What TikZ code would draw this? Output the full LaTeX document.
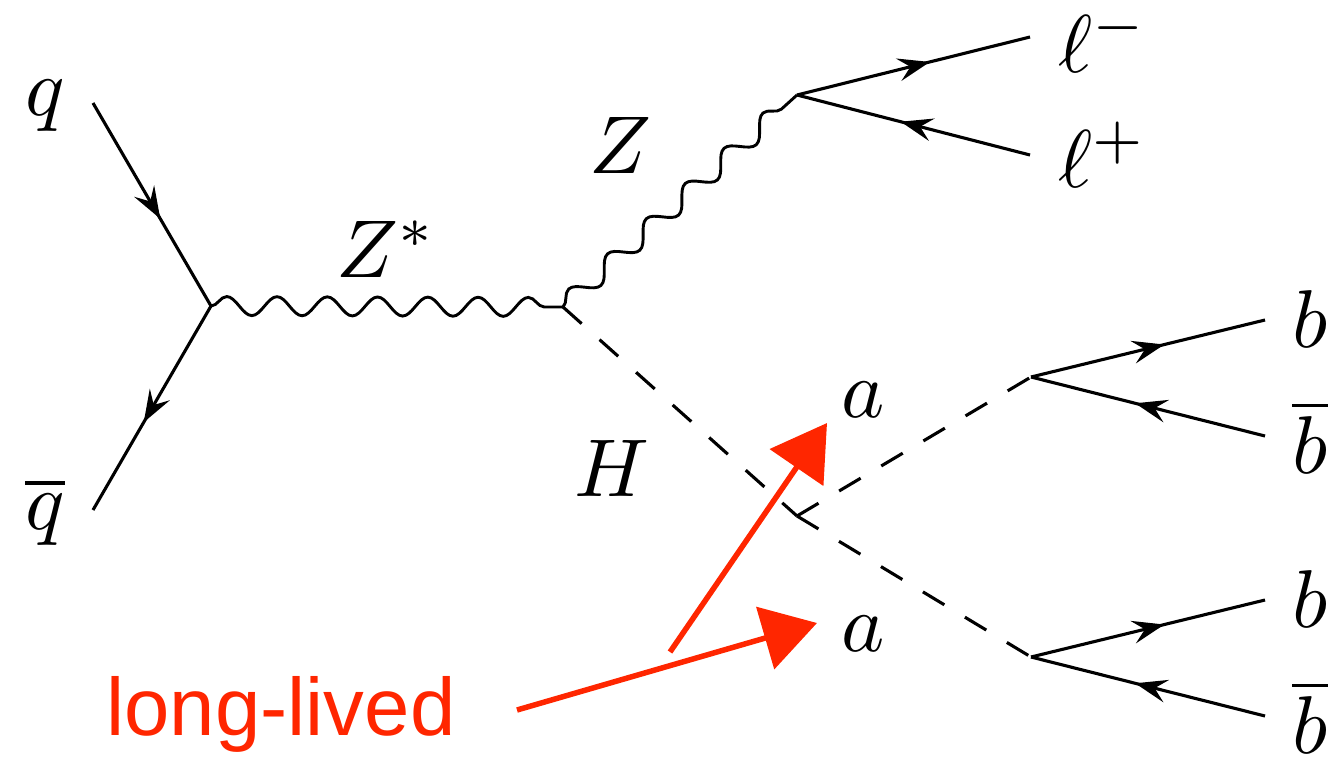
\documentclass[tikz,border=0pt]{standalone}
\usepackage{fontspec}
\setsansfont{Liberation Sans}
\usetikzlibrary{arrows.meta,decorations.pathmorphing,decorations.markings}
\definecolor{longlived}{RGB}{255,38,0}
\tikzset{
  fermion/.style={line width=3.1pt, postaction={decorate}, decoration={markings,
      mark=at position #1 with {\arrow{Stealth[length=32pt,width=23pt,inset=12pt]}}}},
  fermion/.default=0.57,
  boson/.style={line width=2.9pt, decorate,
      decoration={snake, amplitude=9.5pt, segment length=50.28pt}},
  scalar/.style={line width=3.1pt, dash pattern=on 25pt off 24pt},
  lab/.style={scale=8.2, inner sep=0pt},
  note/.style={scale=8.15, inner sep=0pt, text=longlived, font=\sffamily},
  pointer/.style={-{Triangle[length=54pt,width=64pt]}, line width=5.5pt, draw=longlived},
}

\begin{document}
\begin{tikzpicture}[x=1pt,y=-1pt]
  \useasboundingbox (0,0) rectangle (1328,758);

  % vertices
  \coordinate (qin) at (93,103);
  \coordinate (qout) at (93,510);
  \coordinate (vq) at (211,306);
  \coordinate (vz) at (563,307);
  \coordinate (vl) at (797,95);
  \coordinate (vh) at (797,516);
  \coordinate (va) at (1031,377);
  \coordinate (vb) at (1031,657);
  \coordinate (lm) at (1030,37);
  \coordinate (lp) at (1030,155);
  \coordinate (ba) at (1265,320);
  \coordinate (bab) at (1265,436);
  \coordinate (bb) at (1265,600);
  \coordinate (bbb) at (1265,716);

  % quarks
  \draw[fermion] (qin) -- (vq);
  \draw[fermion] (vq) -- (qout);

  % bosons
  \draw[boson] (vq) -- (vz);
  \draw[boson, decoration={segment length=52.4pt}] (vz) -- (vl);
  \draw[scalar] (vz) -- (vh);
  \draw[scalar] (vh) -- (vb);
  \draw[scalar] (vh) -- (va);

  % decays
  \draw[fermion] (vl) -- (lm);
  \draw[fermion=0.555] (lp) -- (vl);
  \draw[fermion] (va) -- (ba);
  \draw[fermion=0.555] (bab) -- (va);
  \draw[fermion] (vb) -- (bb);
  \draw[fermion=0.555] (bbb) -- (vb);

  % labels
  \node[lab] (lq) at (45,106) {$q$};
  \node[lab] (lqb) at (45,512) {$\overline{q}$};
  \node[lab] (lzs) at (386,249) {$Z^*$};
  \node[lab] (lz) at (620,145) {$Z$};
  \node[lab] (lh) at (612,468) {$H$};
  \node[lab] (la) at (863,400) {$a$};
  \node[lab] (lb) at (863,634) {$a$};
  \node[lab] (llm) at (1103,40) {$\ell^-$};
  \node[lab] (llp) at (1103,155) {$\ell^+$};
  \node[lab] (lba) at (1310,319) {$b$};
  \node[lab] (lbab) at (1310,437) {$\overline{b}$};
  \node[lab] (lbb) at (1310,599) {$b$};
  \node[lab] (lbbb) at (1310,717) {$\overline{b}$};

  % long-lived pointers
  \node[note] (ll) at (281,714) {long-lived};
  \coordinate (pa) at (670,652);
  \coordinate (pb) at (517,710);
  \coordinate (ta) at (827,423);
  \coordinate (tb) at (817,623);
  \draw[pointer] (pa) -- (ta);
  \draw[pointer] (pb) -- (tb);
\end{tikzpicture}
\end{document}
